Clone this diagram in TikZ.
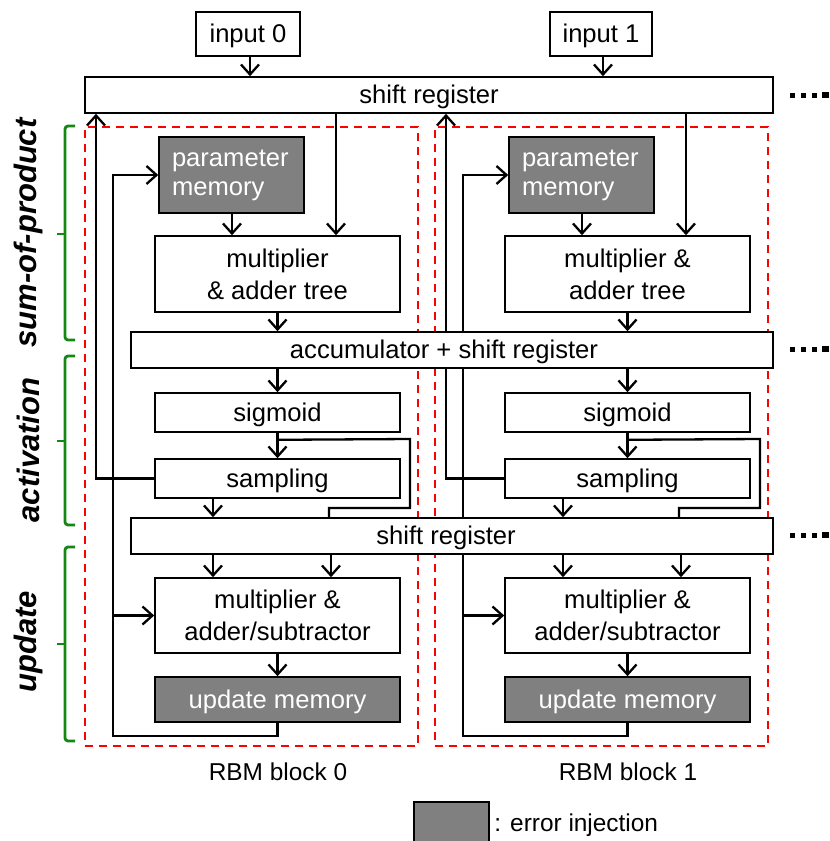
\documentclass[tikz,border=0pt]{standalone}
\usepackage{fontspec}
\setmainfont{Liberation Sans}
\usetikzlibrary{arrows.meta,calc}
\definecolor{memgray}{RGB}{128,128,128}
\definecolor{brgreen}{RGB}{20,135,20}
\pgfdeclarelayer{back}
\pgfdeclarelayer{wires}
\pgfsetlayers{back,wires,main}
\tikzset{
 blk/.style={draw, line width=0.8pt, fill=white, inner sep=0pt, font=\fontsize{12.8}{16}\selectfont},
 one/.style={text height=10pt, text depth=1.5pt},
 two/.style={align=center},
 mem/.style={blk, fill=memgray, text=white},
 wire/.style={line width=1.15pt},
 arr/.style={wire, -{Straight Barb[length=5pt,width=9pt]}},
 rbm/.style={draw=red, line width=1pt, dash pattern=on 4pt off 3pt, inner sep=0pt},
 brace/.style={draw=brgreen, line width=1.4pt, rounded corners=1.5pt},
 phase/.style={font=\fontsize{15.5}{18}\selectfont\bfseries\itshape, rotate=90},
 lbl/.style={font=\fontsize{12.2}{15}\selectfont},
 dotsq/.style={fill=black},
}
\begin{document}
\begin{tikzpicture}[x=0.5pt,y=-0.5pt]
\useasboundingbox (0,0) rectangle (830,841);
% inputs and registers
\node[blk, one, minimum width=52pt, minimum height=22pt] (in0) at (248,34) {input 0};
\node[blk, one, minimum width=51pt, minimum height=22pt] (in1) at (601,34) {input 1};
\node[blk, one, minimum width=344pt, minimum height=18pt] (sr1) at (429,95) {shift register};
\node[blk, one, minimum width=321pt, minimum height=18pt] (acc) at (452,350) {\hspace*{-8pt}accumulator + shift register};
\node[blk, one, minimum width=321pt, minimum height=18pt] (sr2) at (452,536) {\hspace*{-6pt}shift register};
\begin{pgfonlayer}{wires}
\draw[arr] (in0.south -| 250,0) -- (sr1.north -| 250,0);
\draw[arr] (in1.south -| 603,0) -- (sr1.north -| 603,0);
\end{pgfonlayer}
% blocks
\foreach \i/\o/\mt in {0/0/{multiplier\\\& adder tree},1/350/{multiplier \&\\adder tree}}{
  \begin{pgfonlayer}{back}
  \node[rbm, minimum width=166.5pt, minimum height=309.5pt] (box\i) at ({251.5+\o},436.5) {};
  \end{pgfonlayer}
  \node[mem, text width=59.5pt, inner xsep=6.5pt, align=left, minimum height=38pt, font=\fontsize{12.8}{14.5}\selectfont] (pm\i) at ({231.5+\o},175) {parameter\\memory};
  \node[blk, two, minimum width=122.5pt, minimum height=38pt] (mul\i) at ({277.5+\o},274) {\mt};
  \node[blk, one, minimum width=122.5pt, minimum height=19.5pt] (sig\i) at ({277.5+\o},412.5) {sigmoid};
  \node[blk, one, minimum width=122.5pt, minimum height=19.5pt] (samp\i) at ({277.5+\o},478.5) {sampling};
  \node[blk, two, minimum width=122.5pt, minimum height=37.5pt] (mas\i) at ({277.5+\o},615.5) {multiplier \&\\adder/subtractor};
  \node[mem, one, minimum width=122.5pt, minimum height=22.5pt] (um\i) at ({277.5+\o},699.5) {update memory};
  \node[lbl] (lab\i) at ({278+\o},772) {RBM block \i};
  \begin{pgfonlayer}{wires}
  \draw[arr] (sr1.south -| {336+\o},0) -- (mul\i.north -| {336+\o},0);
  \draw[arr] (pm\i.south -| {232+\o},0) -- (mul\i.north -| {232+\o},0);
  \draw[arr] (mul\i.south) -- (acc.north -| mul\i.south);
  \draw[arr] (acc.south -| sig\i.north) -- (sig\i.north);
  \draw[arr] (sig\i.south) -- (samp\i.north);
  \draw[wire] (sig\i.south) ++(0,7) -- ({410+\o},{412.5+19.5+7}) |- ({329+\o},508) -- (sr2.north -| {329+\o},0);
  \draw[arr] (samp\i.south -| {213+\o},0) -- (sr2.north -| {213+\o},0);
  \draw[arr] (samp\i.west) -| (sr1.south -| {96+\o},0);
  \draw[arr] (sr2.south -| {213+\o},0) -- (mas\i.north -| {213+\o},0);
  \draw[arr] (sr2.south -| {331+\o},0) -- (mas\i.north -| {331+\o},0);
  \draw[arr] (mas\i.south) -- (um\i.north);
  \draw[arr] (um\i.south) -- ++(0,13) -| ({113+\o},175) -- (pm\i.west);
  \draw[arr] ({113+\o},615.5) -- (mas\i.west);
  \end{pgfonlayer}
}
% continuation dots
\foreach \y in {95,349,535}{
  \fill[dotsq] (790,{\y-2.5}) rectangle ++(5,5);
  \fill[dotsq] (801,{\y-2.5}) rectangle ++(5,5);
  \fill[dotsq] (812,{\y-2.5}) rectangle ++(5,5);
  \fill[dotsq] (822,{\y-3}) rectangle ++(7,6);
}
% phase braces
\draw[brace] (75,126) -- (65,126) -- (65,340) -- (75,340);
\draw[brace] (65,234) -- (57,234);
\draw[brace] (75,356) -- (65,356) -- (65,525) -- (75,525);
\draw[brace] (65,441) -- (57,441);
\draw[brace] (75,547) -- (65,547) -- (65,741) -- (75,741);
\draw[brace] (65,644) -- (57,644);
\node[phase] (ph1) at (28,233) {sum-of-product};
\node[phase] (ph2) at (28,450) {activation};
\node[phase] (ph3) at (28,642) {update};
% legend
\node[mem, minimum width=37.5pt, minimum height=22pt, anchor=north west] (leg) at (413,801) {};
\node[lbl, anchor=west, inner sep=0pt] (legt) at (494,825) {: error injection};
\end{tikzpicture}
\end{document}
